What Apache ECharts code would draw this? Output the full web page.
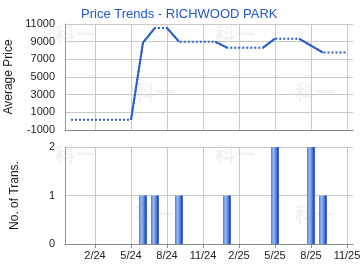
<!DOCTYPE html>
<html>
<head>
<meta charset="utf-8">
<script src="https://cdn.jsdelivr.net/npm/echarts@6/dist/echarts.min.js"></script>
<style>
  html, body { margin: 0; padding: 0; background: #fff; }
  #chart { width: 360px; height: 270px; }
</style>
</head>
<body>
<div id="chart"></div>
<script>
// monthly categories, 12/23 .. 11/25
var months = ['12/23', '1/24', '2/24', '3/24', '4/24', '5/24', '6/24', '7/24', '8/24', '9/24', '10/24', '11/24',
  '12/24', '1/25', '2/25', '3/25', '4/25', '5/25', '6/25', '7/25', '8/25', '9/25', '10/25', '11/25'];
// average price (carried forward in months without sales)
var avgPrice = [150, 150, 150, 150, 150, 150, 8890, 10550, 10550, 9000, 9000, 9000,
  9000, 8320, 8320, 8320, 8320, 9340, 9340, 9340, 8550, 7760, 7760, 7760];
// number of transactions per month
var transCount = [0, 0, 0, 0, 0, 0, 1, 1, 0, 1, 0, 0,
  0, 1, 0, 0, 0, 2, 0, 0, 2, 1, 0, 0];
var priceTicks = [-1000, 11000, 2000];
var transTicks = [0, 2, 1];

var blue = '#2b5fcf';
var gridGray = '#c9c9c9';

// solid runs: segment (i-1, i) is solid when month i has sales
var runs = [];
for (var i = 1; i < months.length; i++) {
  if (transCount[i] > 0) {
    var last = runs[runs.length - 1];
    if (last && last[1] === i - 1) last[1] = i;
    else runs.push([i - 1, i]);
  }
}
var solidSeries = runs.map(function (r) {
  return {
    type: 'line', xAxisIndex: 0, yAxisIndex: 0, symbol: 'none', z: 4,
    lineStyle: { color: blue, width: 2 },
    data: avgPrice.map(function (v, k) { return (k >= r[0] && k <= r[1]) ? v : null; })
  };
});

var showLabel = function (idx) { return idx % 3 === 2; };
var plain = function (v) { return String(v); };

var marks = [[55, 24], [215, 24], [135, 82], [295, 82], [55, 144], [215, 144], [135, 204], [295, 204]];

var chart = echarts.init(document.getElementById('chart'), null, { renderer: 'canvas' });
chart.setOption({
  animation: false,
  textStyle: { fontFamily: 'Arial, "Liberation Sans", sans-serif' },
  title: {
    text: 'Price Trends - RICHWOOD PARK',
    left: 81, top: 8, padding: 0,
    textStyle: { color: '#2456c8', fontSize: 13, fontWeight: 'normal' }
  },
  graphic: marks.map(function (m) {
    return {
      type: 'text', left: m[0], top: m[1], z: 0, silent: true,
      style: { text: '科一', fill: '#f3f3f3', font: 'bold 20px "Noto Sans CJK SC"' }
    };
  }),
  grid: [
    { left: 65, right: 7, top: 24, height: 106, outerBoundsMode: 'none' },
    { left: 65, right: 7, top: 147, height: 97, outerBoundsMode: 'none' }
  ],
  xAxis: [
    {
      gridIndex: 0, type: 'category', data: months, boundaryGap: true,
      axisLine: { onZero: false, lineStyle: { color: '#888', width: 1 } },
      axisTick: { show: false },
      axisLabel: { show: false },
      splitLine: { show: true, interval: showLabel, alignWithLabel: true, lineStyle: { color: gridGray } }
    },
    {
      gridIndex: 1, type: 'category', data: months, boundaryGap: true,
      axisLine: { onZero: false, lineStyle: { color: '#888', width: 1 } },
      axisTick: { show: true, interval: showLabel, alignWithLabel: true, length: 4, lineStyle: { color: '#888' } },
      axisLabel: { interval: showLabel, color: '#222', fontSize: 11, margin: 6 },
      splitLine: { show: true, interval: showLabel, alignWithLabel: true, lineStyle: { color: gridGray } }
    }
  ],
  yAxis: [
    {
      gridIndex: 0, type: 'value', min: priceTicks[0], max: priceTicks[1], interval: priceTicks[2],
      name: 'Average Price', nameLocation: 'middle', nameGap: 41,
      nameTextStyle: { color: '#222', fontSize: 12 },
      axisLine: { show: true, lineStyle: { color: '#999' } },
      axisTick: { show: false },
      axisLabel: { color: '#222', fontSize: 11, margin: 10, formatter: plain },
      splitLine: { lineStyle: { color: gridGray } }
    },
    {
      gridIndex: 1, type: 'value', min: transTicks[0], max: transTicks[1], interval: transTicks[2],
      name: 'No. of Trans.', nameLocation: 'middle', nameGap: 44,
      nameTextStyle: { color: '#222', fontSize: 12 },
      axisLine: { show: true, lineStyle: { color: '#999' } },
      axisTick: { show: false },
      axisLabel: { color: '#222', fontSize: 11, margin: 10, formatter: plain },
      splitLine: { lineStyle: { color: gridGray } }
    }
  ],
  series: [
    {
      type: 'line', xAxisIndex: 0, yAxisIndex: 0, symbol: 'none', z: 3,
      lineStyle: { color: blue, width: 2, type: [2, 2] },
      data: avgPrice
    }
  ].concat(solidSeries).concat([
    {
      type: 'bar', xAxisIndex: 1, yAxisIndex: 1, barWidth: 8,
      itemStyle: {
        color: new echarts.graphic.LinearGradient(0, 0, 1, 0, [
          { offset: 0, color: '#4f7bd6' },
          { offset: 0.3, color: '#9bb8ec' },
          { offset: 0.6, color: '#5f8ade' },
          { offset: 0.82, color: '#2350c0' },
          { offset: 1, color: '#4a76d2' }
        ])
      },
      data: transCount.map(function (v) { return v > 0 ? v : null; })
    }
  ])
});
</script>
</body>
</html>
